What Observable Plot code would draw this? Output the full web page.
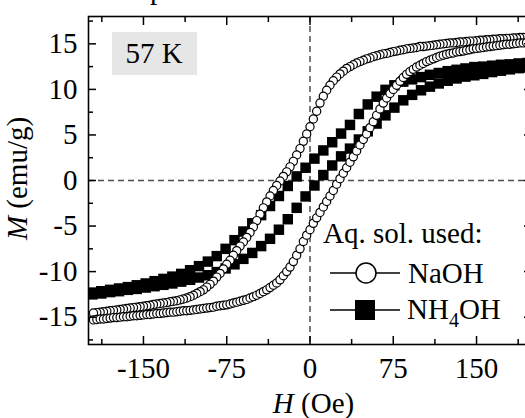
<!DOCTYPE html>
<html>
<head>
<meta charset="utf-8">
<script src="https://cdn.jsdelivr.net/npm/d3@7"></script>
<script src="https://cdn.jsdelivr.net/npm/@observablehq/plot@0.6"></script>
<style>
  html, body { margin: 0; padding: 0; background: white; overflow: hidden; }
  #chart { width: 525px; height: 418px; overflow: hidden; }
  #chart svg { max-width: none !important; }
</style>
</head>
<body>
<div id="chart"></div>
<script>
// ---- data ----
// NaOH sample: field sweep grid (Oe), descending then ascending branch
const hNaOH = [195,192,189,186,183,180,177,174,171,168,165,162,159,156,153,150,
  147,144,141,138,135,132,129,126,123,120,117,114,111,108,105,102,
  99,96,93,90,87,84,81,78,75,72,69,66,63,60,57,54,
  51,48,45,42,39,36,33,30,27,24,21,18,15,12,9,6,
  3,0,
  -3,-6,-9,-12,-15,-18,-21,-24,-27,-30,-33,-36,-39,-42,-45,-48,
  -51,-54,-57,-60,-63,-66,-69,-72,-75,-78,-81,-84,-87,-90,-93,-96,
  -99,-102,-105,-108,-111,-114,-117,-120,-123,-126,-129,-132,-135,-138,-141,-144,
  -147,-150,-153,-156,-159,-162,-165,-168,-171,-174,-177,-180,-183,-186,-189,-192,-195];
const mNaOHdown = [15.7,15.7,15.7,15.65,15.65,15.6,15.6,15.55,15.55,15.5,15.5,15.45,15.45,15.4,15.4,15.35,
  15.3,15.3,15.25,15.2,15.2,15.15,15.1,15.1,15.05,15.0,14.95,14.9,14.85,14.8,14.75,14.7,
  14.7,14.6,14.55,14.5,14.45,14.35,14.3,14.2,14.15,14.05,13.95,13.9,13.8,13.7,13.6,13.45,
  13.35,13.2,13.05,12.9,12.7,12.5,12.3,12.0,11.7,11.35,10.95,10.45,9.9,9.25,8.5,7.6,
  6.75,5.9,
  5.1,4.3,3.5,2.8,2.1,1.5,0.95,0.45,-0.05,-0.55,-1.1,-1.7,-2.35,-3.0,-3.7,-4.4,
  -5.1,-5.7,-6.25,-6.75,-7.2,-7.7,-8.2,-8.75,-9.2,-9.7,-10.2,-10.6,-11.05,-11.4,-11.7,-12.0,
  -12.2,-12.4,-12.6,-12.75,-12.9,-13.0,-13.1,-13.2,-13.25,-13.3,-13.4,-13.45,-13.5,-13.55,-13.6,-13.7,
  -13.75,-13.8,-13.85,-13.9,-13.95,-14.0,-14.05,-14.1,-14.15,-14.2,-14.25,-14.3,-14.35,-14.4,-14.45,-14.5,-14.55];
const mNaOHup = [15.15,15.1,15.1,15.05,15.0,14.95,14.95,14.9,14.85,14.8,14.75,14.7,14.65,14.6,14.55,14.5,
  14.45,14.35,14.3,14.2,14.15,14.1,14.0,13.95,13.85,13.75,13.65,13.5,13.35,13.2,13.05,12.85,
  12.65,12.45,12.2,11.95,11.65,11.3,10.9,10.45,10.0,9.55,9.05,8.5,7.85,7.15,6.45,5.8,
  5.1,4.5,3.9,3.25,2.6,2.0,1.4,0.8,0.2,-0.4,-1.1,-1.7,-2.3,-2.9,-3.5,-4.1,
  -4.7,-5.4,
  -6.0,-6.7,-7.5,-8.2,-8.9,-9.5,-10.0,-10.45,-10.9,-11.25,-11.5,-11.75,-12.0,-12.2,-12.4,-12.6,
  -12.75,-12.9,-13.05,-13.15,-13.25,-13.35,-13.45,-13.55,-13.65,-13.7,-13.75,-13.8,-13.9,-13.95,-14.0,-14.05,
  -14.1,-14.15,-14.2,-14.25,-14.3,-14.3,-14.35,-14.4,-14.45,-14.45,-14.5,-14.55,-14.6,-14.6,-14.65,-14.7,
  -14.7,-14.75,-14.8,-14.85,-14.85,-14.9,-14.95,-14.95,-15.0,-15.05,-15.05,-15.1,-15.15,-15.2,-15.2,-15.25,-15.3];

// NH4OH sample
const hNH4 = [196,188,180,172,164,156,148,140,132,124,116,108,100,92,84,76,68,60,52,44,36,28,20,12,4,
  -4,-12,-20,-28,-36,-44,-52,-60,-68,-76,-84,-92,-100,-108,-116,-124,-132,-140,-148,-156,-164,-172,-180,-188,-196];
const mNH4down = [12.9,12.85,12.75,12.7,12.6,12.5,12.45,12.3,12.15,12.0,11.8,11.6,11.35,11.1,10.85,10.45,9.95,9.2,8.35,7.3,6.1,5.15,4.2,3.3,2.4,
  1.4,0.45,-0.6,-1.7,-2.8,-3.8,-4.7,-5.6,-6.55,-7.5,-8.3,-8.9,-9.4,-9.85,-10.25,-10.55,-10.8,-11.05,-11.3,-11.5,-11.7,-11.85,-12.0,-12.15,-12.3];
const mNH4up = [12.4,12.33,12.2,12.05,11.9,11.7,11.55,11.4,11.2,10.95,10.65,10.3,9.9,9.4,8.8,8.0,7.15,6.25,5.4,4.5,3.5,2.65,1.65,0.6,-0.55,
  -1.75,-3.0,-4.25,-5.4,-6.4,-7.2,-7.95,-8.6,-9.2,-9.65,-10.05,-10.4,-10.65,-10.9,-11.1,-11.3,-11.45,-11.6,-11.75,-11.9,-12.0,-12.15,-12.25,-12.4,-12.5];

// ticks
const xTicks = [-150, -75, 0, 75, 150];
const xMinor = [-187.5, -112.5, -37.5, 37.5, 112.5, 187.5];
const yTicks = [-15, -10, -5, 0, 5, 10, 15];
const yMinor = [-17.5, -12.5, -7.5, -2.5, 2.5, 7.5, 12.5, 17.5];

// texts
const xTitle = ["H", " (Oe)"];
const yTitle = ["M", " (emu/g)"];
const tempLabel = "57 K";
const legendTitle = "Aq. sol. used:";
const seriesNames = ["NaOH", "NH4OH"];
const topFragment = "of the final samples.";

// ---- tables ----
const naohRows = hNaOH.map((h, i) => ({H: h, M: mNaOHdown[i]}))
  .concat(hNaOH.map((h, i) => ({H: h, M: mNaOHup[i]})).reverse());
const nh4Rows = hNH4.map((h, i) => ({H: h, M: mNH4down[i]}))
  .concat(hNH4.map((h, i) => ({H: h, M: mNH4up[i]})).reverse());

const FONT = "'Liberation Serif', 'Times New Roman', Times, serif";
const FS = 29;
const fmt = d => String(d);

const tickCommon = {fill: "none", stroke: "black", strokeWidth: 1.5};

const plot = Plot.plot({
  width: 532,
  height: 418,
  marginLeft: 88,
  marginRight: 1,
  marginTop: 16,
  marginBottom: 74,
  x: {domain: [-199.5, 199.5]},
  y: {domain: [-18, 18]},
  style: {fontFamily: FONT, fontSize: FS + "px", color: "black", background: "white", maxWidth: "none"},
  marks: [
    Plot.ruleY([0], {stroke: "#4d4d4d", strokeWidth: 1.5, strokeDasharray: "6,4"}),
    Plot.ruleX([0], {stroke: "#4d4d4d", strokeWidth: 1.5, strokeDasharray: "6,4"}),
    Plot.dot(nh4Rows, {x: "H", y: "M", symbol: "square", r: 5.9, fill: "black", stroke: "none", clip: true}),
    Plot.dot(naohRows, {x: "H", y: "M", r: 4.1, fill: "white", stroke: "black", strokeWidth: 1.2, clip: true}),
    Plot.frame({stroke: "black", strokeWidth: 1.6}),
    Plot.axisX({ticks: xTicks, anchor: "bottom", tickSize: -8, ...tickCommon}),
    Plot.axisX({ticks: xTicks, anchor: "top", tickSize: -8, ...tickCommon}),
    Plot.axisX({ticks: xMinor, anchor: "bottom", tickSize: -5, ...tickCommon}),
    Plot.axisX({ticks: xMinor, anchor: "top", tickSize: -5, ...tickCommon}),
    Plot.axisY({ticks: yTicks, anchor: "left", tickSize: -8, ...tickCommon}),
    Plot.axisY({ticks: yTicks, anchor: "right", tickSize: -8, ...tickCommon}),
    Plot.axisY({ticks: yMinor, anchor: "left", tickSize: -5, ...tickCommon}),
    Plot.axisY({ticks: yMinor, anchor: "right", tickSize: -5, ...tickCommon}),
    Plot.axisX({ticks: xTicks, anchor: "bottom", tickSize: 0, tickPadding: 12.5, tickFormat: fmt, label: null, fontSize: FS, fill: "black"}),
    Plot.axisY({ticks: yTicks, anchor: "left", tickSize: 0, tickPadding: 11, tickFormat: fmt, label: null, fontSize: FS, fill: "black"})
  ]
});

document.getElementById("chart").appendChild(plot);

// ---- annotations, titles and legend ----
const svg = d3.select(plot);
const txt = (x, y, anchor = "start") => svg.append("text").attr("x", x).attr("y", y)
  .attr("text-anchor", anchor)
  .attr("font-family", FONT).attr("font-size", FS).attr("fill", "black");

// cropped caption fragment at the very top
txt(204, -1, "end").text(topFragment);

// temperature box
svg.append("rect").attr("x", 112).attr("y", 32).attr("width", 85).attr("height", 43).attr("fill", "#e6e6e6");
txt(154, 63, "middle").text(tempLabel);

// axis titles
const xt = txt(313.5, 413, "middle");
xt.append("tspan").attr("font-style", "italic").text(xTitle[0]);
xt.append("tspan").text(xTitle[1]);

const yt = svg.append("text").attr("transform", "translate(26.5,178.5) rotate(-90)")
  .attr("text-anchor", "middle").attr("font-family", FONT).attr("font-size", FS).attr("fill", "black");
yt.append("tspan").attr("font-style", "italic").text(yTitle[0]);
yt.append("tspan").text(yTitle[1]);

// legend
txt(323, 243).text(legendTitle);
svg.append("line").attr("x1", 330).attr("x2", 400).attr("y1", 273).attr("y2", 273).attr("stroke", "black").attr("stroke-width", 1.5);
svg.append("circle").attr("cx", 366).attr("cy", 273).attr("r", 10).attr("fill", "white").attr("stroke", "black").attr("stroke-width", 1.5);
txt(408, 283).text(seriesNames[0]);

svg.append("line").attr("x1", 330).attr("x2", 400).attr("y1", 310).attr("y2", 310).attr("stroke", "black").attr("stroke-width", 1.5);
svg.append("rect").attr("x", 355).attr("y", 300).attr("width", 20).attr("height", 20).attr("fill", "black");
const nh = txt(407, 319);
nh.append("tspan").text(seriesNames[1].slice(0, 2));
nh.append("tspan").attr("font-size", 20).attr("dy", 8).text(seriesNames[1].slice(2, 3));
nh.append("tspan").attr("dy", -8).text(seriesNames[1].slice(3));
</script>
</body>
</html>
